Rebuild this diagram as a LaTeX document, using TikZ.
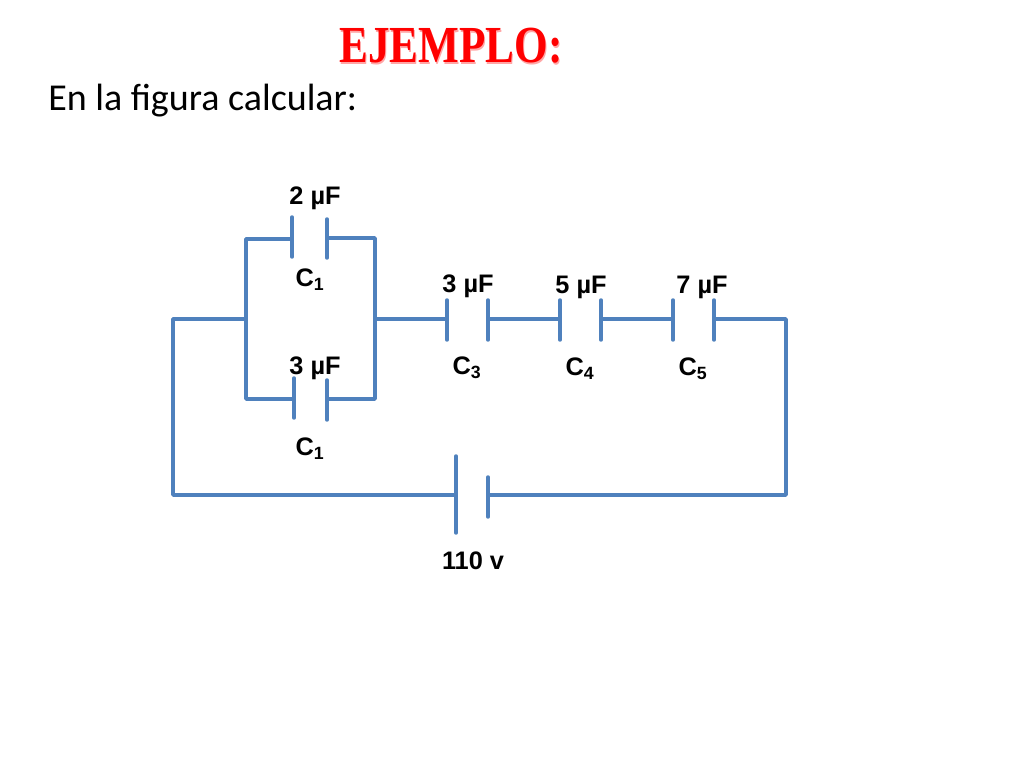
\documentclass[tikz,border=0pt]{standalone}
\usepackage{fontspec}
\setmainfont{Liberation Sans}
\newfontfamily\titlefont[FakeStretch=0.83]{Liberation Serif}
\newfontfamily\bodyfont{Carlito}
\definecolor{wireblue}{HTML}{4F81BD}
\tikzset{
  wire/.style={draw=wireblue,line width=2.6pt,line cap=round,line join=round},
  lab/.style={font=\fontsize{19}{22}\selectfont\bfseries,text=black,inner sep=0pt,anchor=center},
  sublab/.style={lab},
}
\newcommand{\caplab}[2]{#1\textsubscript{#2}}
\begin{document}
\begin{tikzpicture}[x=0.75pt,y=-0.75pt]
\useasboundingbox (0,0) rectangle (1024,768);
\fill[white] (0,0) rectangle (1024,768);
% junction coordinates
\coordinate (LA) at (173,319);
\coordinate (LB) at (173,495);
\coordinate (RA) at (786,319);
\coordinate (RB) at (786,495);
\coordinate (BL) at (246,319);
\coordinate (BLT) at (246,239);
\coordinate (BLB) at (246,399);
\coordinate (BR) at (375,319);
\coordinate (BRT) at (375,238);
\coordinate (BRB) at (375,399);
% plates
\foreach \n/\x/\ya/\yb in {a1/292/217/257,a2/327/219/258,b1/294/378/418,b2/327/380/420,c1/447/300/340,c2/488/300/340,d1/560/300/340,d2/601/300/340,e1/673/300/340,e2/714/300/340,f1/456/456/533,f2/488/477/517}{
  \coordinate (\n u) at (\x,\ya);
  \coordinate (\n d) at (\x,\yb);
  \draw[wire] (\n u) -- (\n d);
}
% junction points on plates
\coordinate (a1m) at (292,239);
\coordinate (a2m) at (329,238);
\coordinate (b1m) at (294,399);
\coordinate (b2m) at (329,399);
\coordinate (c1m) at (447,319);
\coordinate (c2m) at (488,319);
\coordinate (d1m) at (560,319);
\coordinate (d2m) at (601,319);
\coordinate (e1m) at (673,319);
\coordinate (e2m) at (716,319);
\coordinate (f1m) at (456,495);
\coordinate (f2m) at (488,495);
% wires
\draw[wire] (a1m) -- (BLT) -- (BLB) -- (b1m);
\draw[wire] (a2m) -- (BRT) -- (BRB) -- (b2m);
\draw[wire] (f1m) -- (LB) -- (LA) -- (BL);
\draw[wire] (BR) -- (c1m);
\draw[wire] (c2m) -- (d1m);
\draw[wire] (d2m) -- (e1m);
\draw[wire] (e2m) -- (RA) -- (RB) -- (f2m);
% texts
\node[red!35,font=\titlefont\fontsize{39}{44}\selectfont\bfseries,inner sep=0pt] (titleshadow) at (452,47.5) {EJEMPLO:};
\node[red,font=\titlefont\fontsize{39}{44}\selectfont\bfseries,inner sep=0pt] (title) at (451,46) {EJEMPLO:};
\node[font=\bodyfont\fontsize{28.5}{34}\selectfont,inner sep=0pt,anchor=west] (intro) at (48,100.5) {En la figura calcular:};
\node[lab] (l1) at (315,198) {2 µF};
\node[lab] (l2) at (315,368) {3 µF};
\node[lab] (l3) at (468,286) {3 µF};
\node[lab] (l4) at (581,287) {5 µF};
\node[lab] (l5) at (702,287) {7 µF};
\node[lab] (l6) at (473,561) {110 v};
\node[sublab] (n1) at (310,280) {\caplab{C}{1}};
\node[sublab] (n2) at (310,449) {\caplab{C}{1}};
\node[sublab] (n3) at (467,368) {\caplab{C}{3}};
\node[sublab] (n4) at (580,369) {\caplab{C}{4}};
\node[sublab] (n5) at (693,369) {\caplab{C}{5}};
\end{tikzpicture}
\end{document}
